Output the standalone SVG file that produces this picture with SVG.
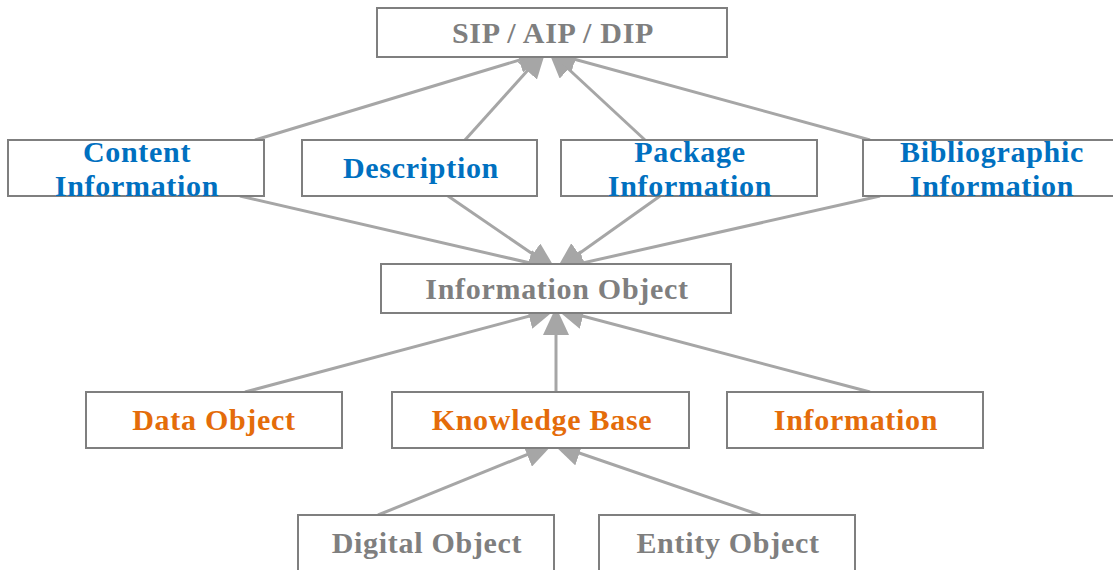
<svg xmlns="http://www.w3.org/2000/svg" width="1113" height="570" viewBox="0 0 1113 570">
<style>
.box{fill:#fff;stroke:#7f7f7f;stroke-width:2}
.t{font-family:"Liberation Serif","Times New Roman",serif;font-weight:bold;font-size:30px;letter-spacing:0.7px;text-anchor:middle}
.g{fill:#7f7f7f}
.b{fill:#0070c0}
.o{fill:#e46c0a}
.c{stroke:#a6a6a6;stroke-width:3;fill:none;marker-end:url(#ah)}
</style>
<defs>
<marker id="ah" markerUnits="userSpaceOnUse" markerWidth="28" markerHeight="26" viewBox="0 0 28 26" refX="28" refY="13" orient="auto">
<path d="M0,0 L28,13 L0,26 z" fill="#a6a6a6"/>
</marker>
</defs>
<g id="connectors">
<line class="c" x1="255" y1="140" x2="546" y2="52"/>
<line class="c" x1="465" y1="140" x2="546" y2="50"/>
<line class="c" x1="645" y1="140" x2="548" y2="50"/>
<line class="c" x1="870" y1="140" x2="548" y2="52"/>
<line class="c" x1="240" y1="196" x2="556" y2="269"/>
<line class="c" x1="448" y1="196" x2="556" y2="270"/>
<line class="c" x1="660" y1="196" x2="556" y2="270"/>
<line class="c" x1="880" y1="196" x2="556" y2="269"/>
<line class="c" x1="245" y1="392" x2="556" y2="309"/>
<line class="c" x1="556" y1="392" x2="556" y2="307"/>
<line class="c" x1="870" y1="392" x2="556" y2="309"/>
<line class="c" x1="378" y1="515" x2="553" y2="444"/>
<line class="c" x1="760" y1="515" x2="553" y2="444"/>
</g>
<g id="sip"><rect class="box" x="377" y="8" width="350" height="49"/><text class="t g" x="553" y="43">SIP / AIP / DIP</text></g>
<g id="content"><rect class="box" x="8" y="140" width="256" height="56"/><text class="t b" x="137" y="162">Content</text><text class="t b" x="137" y="196">Information</text></g>
<g id="description"><rect class="box" x="302" y="140" width="235" height="56"/><text class="t b" x="421" y="178">Description</text></g>
<g id="package"><rect class="box" x="561" y="140" width="256" height="56"/><text class="t b" x="690" y="162">Package</text><text class="t b" x="690" y="196">Information</text></g>
<g id="bibliographic"><rect class="box" x="863" y="140" width="256" height="56"/><text class="t b" x="992" y="162">Bibliographic</text><text class="t b" x="992" y="196">Information</text></g>
<g id="infoobject"><rect class="box" x="381" y="264" width="350" height="49"/><text class="t g" x="557" y="299">Information Object</text></g>
<g id="dataobject"><rect class="box" x="86" y="392" width="256" height="56"/><text class="t o" x="214" y="430">Data Object</text></g>
<g id="knowledge"><rect class="box" x="392" y="392" width="297" height="56"/><text class="t o" x="542" y="430">Knowledge Base</text></g>
<g id="information"><rect class="box" x="727" y="392" width="256" height="56"/><text class="t o" x="856" y="430">Information</text></g>
<g id="digital"><rect class="box" x="298" y="515" width="256" height="70"/><text class="t g" x="427" y="553">Digital Object</text></g>
<g id="entity"><rect class="box" x="599" y="515" width="256" height="70"/><text class="t g" x="728" y="553">Entity Object</text></g>
</svg>
